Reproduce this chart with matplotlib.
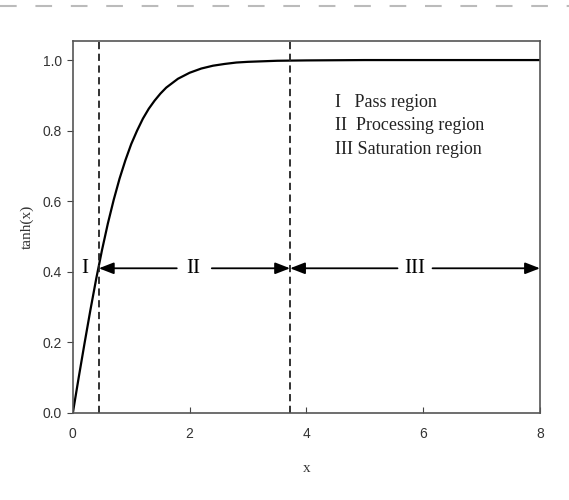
import matplotlib
matplotlib.use("Agg")
import matplotlib.pyplot as plt
from matplotlib.lines import Line2D

# curve samples
x_vals = [0.0, 0.1, 0.2, 0.3, 0.4, 0.5, 0.6, 0.7, 0.8, 0.9, 1.0, 1.1, 1.2, 1.3, 1.4,
          1.5, 1.6, 1.8, 2.0, 2.2, 2.4, 2.6, 2.8, 3.0, 3.5, 4.0, 5.0, 6.0, 7.0, 8.0]
y_vals = [0.0, 0.100, 0.197, 0.291, 0.380, 0.462, 0.537, 0.604, 0.664, 0.716, 0.762,
          0.800, 0.834, 0.862, 0.885, 0.905, 0.922, 0.947, 0.964, 0.976, 0.984,
          0.989, 0.993, 0.995, 0.998, 0.999, 1.0, 1.0, 1.0, 1.0]

boundaries = [0.445, 3.72]
arrow_y = 0.41
region_labels = ["I", "II", "III"]
legend_lines = ["I   Pass region", "II  Processing region", "III Saturation region"]
x_ticks = [0, 2, 4, 6, 8]
y_ticks = [0.0, 0.2, 0.4, 0.6, 0.8, 1.0]

serif = "Liberation Serif"
sans = "Liberation Sans"

fig = plt.figure(figsize=(5.69, 5.0), dpi=100)
ax = fig.add_axes([0.128, 0.174, 0.821, 0.744])

ax.plot(x_vals, y_vals, color="black", lw=1.6)
for b in boundaries:
    ax.axvline(b, color="#222222", ls=(0, (4, 2.5)), lw=1.3)

ax.set_xlim(0, 8)
ax.set_ylim(0, 1.054)
ax.set_xticks(x_ticks)
ax.set_yticks(y_ticks)
ax.set_xticklabels([str(t) for t in x_ticks], fontfamily=sans, fontsize=10, color="#333333")
ax.set_yticklabels([f"{t:.1f}" for t in y_ticks], fontfamily=sans, fontsize=10, color="#333333")
ax.tick_params(axis="x", direction="in", length=4, color="#444444", pad=10)
ax.tick_params(axis="y", direction="out", length=4, color="#444444", pad=4)
for s in ax.spines.values():
    s.set_color("#555555")
    s.set_linewidth(1.2)

ax.set_xlabel("x", fontfamily=serif, fontsize=11, color="#333333", labelpad=15)
ax.set_ylabel("tanh(x)", fontfamily=serif, fontsize=11, color="#333333", labelpad=6)

ap = dict(arrowstyle="-|>,head_length=0.9,head_width=0.35", color="black", lw=1.3,
          shrinkA=0, shrinkB=0)
# region I label
ax.text(0.2, arrow_y, region_labels[0], fontfamily=serif, fontsize=15, ha="center", va="center")
# region II
ax.annotate("", xy=(boundaries[0], arrow_y), xytext=(1.78, arrow_y), arrowprops=ap)
ax.text(2.06, arrow_y, region_labels[1], fontfamily=serif, fontsize=15, ha="center", va="center")
ax.annotate("", xy=(boundaries[1], arrow_y), xytext=(2.38, arrow_y), arrowprops=ap)
# region III
ax.annotate("", xy=(boundaries[1], arrow_y), xytext=(5.56, arrow_y), arrowprops=ap)
ax.text(5.86, arrow_y, region_labels[2], fontfamily=serif, fontsize=15, ha="center", va="center")
ax.annotate("", xy=(8.0, arrow_y), xytext=(6.16, arrow_y), arrowprops=ap)

# legend-like text
for i, t in enumerate(legend_lines):
    ax.text(4.49, 0.881 - i * 0.067, t, fontfamily=serif, fontsize=13,
            ha="left", va="center", color="#222222")

# decorative dashed border line at top
fig.add_artist(Line2D([0.0, 1.0], [0.988, 0.988], transform=fig.transFigure,
                      color="#bbbbbb", lw=1.5, ls=(0, (8, 9))))

fig.savefig("out.png", dpi=100)
